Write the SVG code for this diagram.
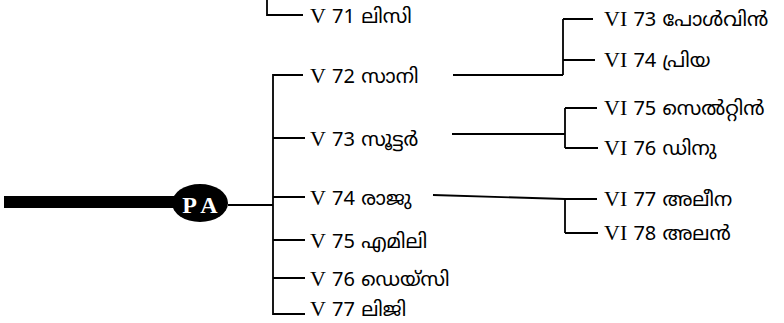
<svg xmlns="http://www.w3.org/2000/svg" width="784" height="323" viewBox="0 0 784 323">
<style>
.t{font-family:"Noto Sans Malayalam","Noto Sans","DejaVu Sans",sans-serif;font-size:20px;fill:#000}
.r{font-family:"Liberation Serif","Times New Roman",serif;font-size:22px}
.c{fill:none;stroke:#000;stroke-width:1.8}
</style>
<rect width="784" height="323" fill="#fff"/>
<g id="connectors" class="c">
<path d="M267,0 V15 H303"/>
<path d="M303,75 H273 V314 H305"/>
<path d="M273,138 H305 M273,197 H305 M273,240 H305 M273,278 H305"/>
<path d="M228,205 H273"/>
<path d="M453,75 H563 M563,19 V75 M563,19 H593 M563,60 H595"/>
<path d="M452,134 H565 M565,108 V148 M565,108 H597 M565,148 H598"/>
<path d="M433,195 L565,199 M565,199 V233 M565,199 H597 M565,233 H598"/>
</g>
<g id="PA">
<line x1="4" y1="202" x2="175" y2="202" stroke="#000" stroke-width="12"/>
<ellipse cx="200" cy="203" rx="28" ry="19" fill="#000"/>
<text x="200" y="213" text-anchor="middle" font-family="Liberation Serif,serif" font-weight="bold" font-size="24" fill="#fff">P A</text>
</g>
<g id="V71"><text class="t" x="310" y="23"><tspan class="r">V</tspan> 71 ലിസി</text></g>
<g id="V72"><text class="t" x="310" y="83"><tspan class="r">V</tspan> 72 സാനി</text></g>
<g id="V73"><text class="t" x="310" y="146"><tspan class="r">V</tspan> 73 സൂട്ടർ</text></g>
<g id="V74"><text class="t" x="310" y="205"><tspan class="r">V</tspan> 74 രാജു</text></g>
<g id="V75"><text class="t" x="310" y="248"><tspan class="r">V</tspan> 75 എമിലി</text></g>
<g id="V76"><text class="t" x="310" y="286"><tspan class="r">V</tspan> 76 ഡെയ്സി</text></g>
<g id="V77"><text class="t" x="310" y="316"><tspan class="r">V</tspan> 77 ലിജി</text></g>
<g id="VI73"><text class="t" x="604" y="26"><tspan class="r">VI</tspan> 73 പോൾവിൻ</text></g>
<g id="VI74"><text class="t" x="604" y="67"><tspan class="r">VI</tspan> 74 പ്രിയ</text></g>
<g id="VI75"><text class="t" x="604" y="115"><tspan class="r">VI</tspan> 75 സെൽറ്റിൻ</text></g>
<g id="VI76"><text class="t" x="604" y="155"><tspan class="r">VI</tspan> 76 ഡിനു</text></g>
<g id="VI77"><text class="t" x="604" y="206"><tspan class="r">VI</tspan> 77 അലീന</text></g>
<g id="VI78"><text class="t" x="604" y="240"><tspan class="r">VI</tspan> 78 അലൻ</text></g>
</svg>
